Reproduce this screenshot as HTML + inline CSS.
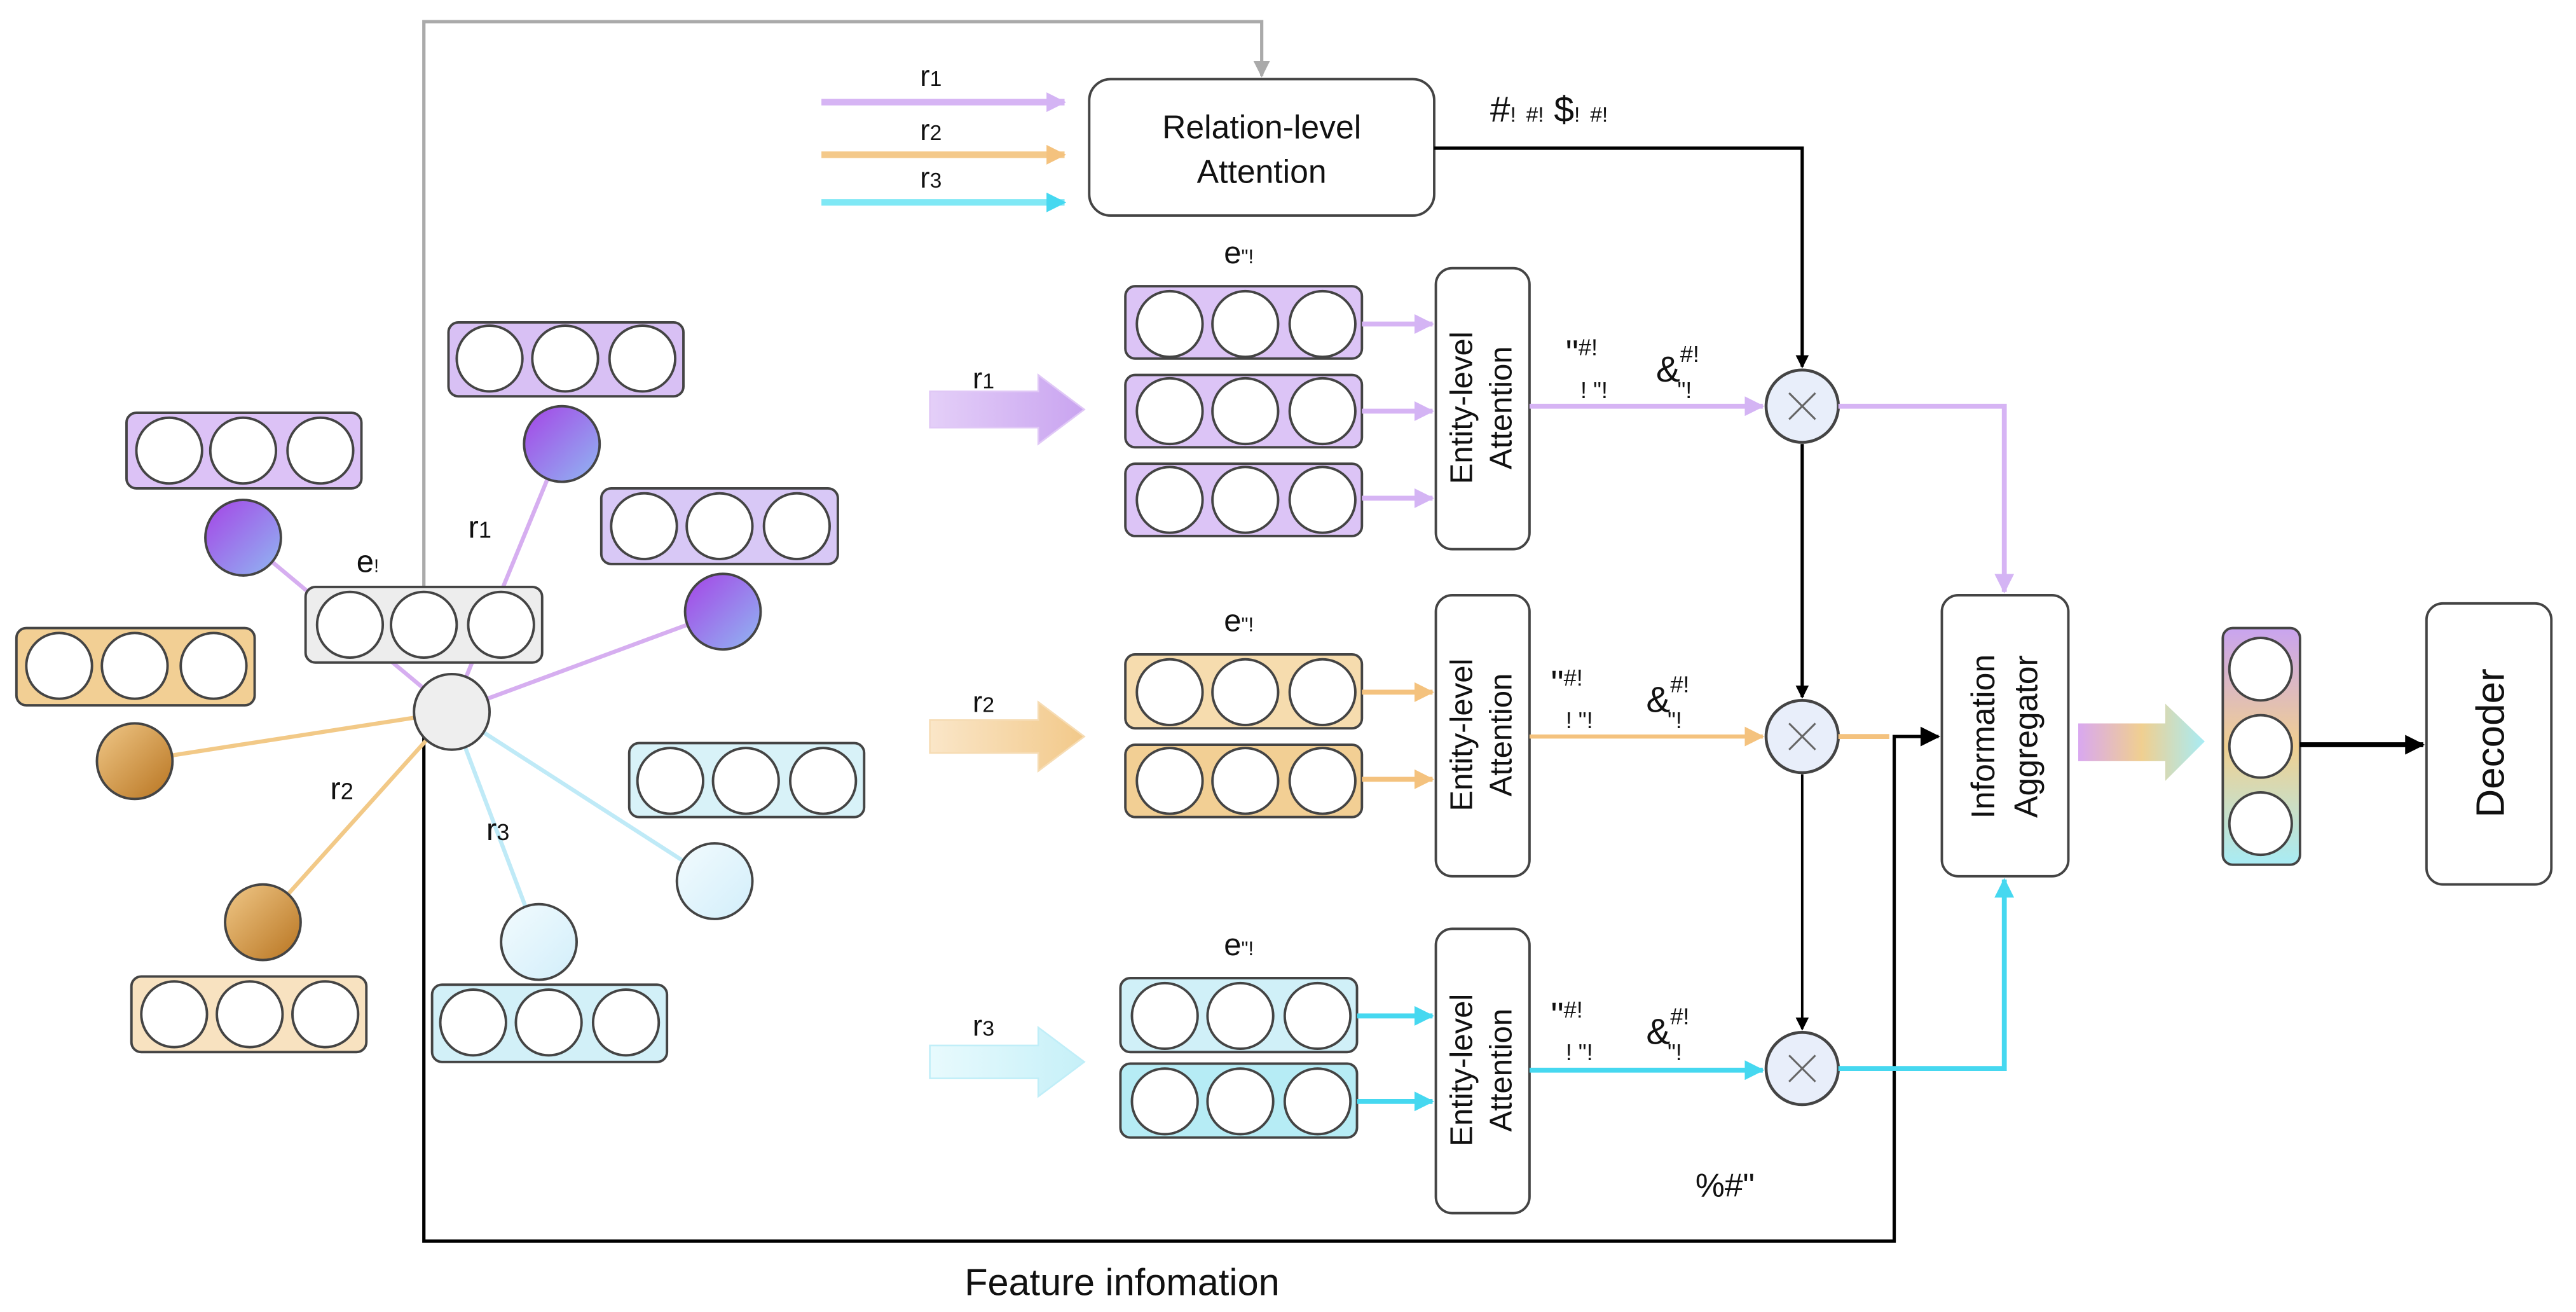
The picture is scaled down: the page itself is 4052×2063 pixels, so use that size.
<!DOCTYPE html>
<html><head><meta charset="utf-8"><style>
html,body{margin:0;padding:0;background:#fff;}
svg{display:block;}
text{font-family:"Liberation Sans",sans-serif;fill:#111;}
</style></head><body>
<svg width="4052" height="2063" viewBox="0 0 1568 798" xmlns="http://www.w3.org/2000/svg">
<defs>
<linearGradient id="gp" x1="0" y1="0" x2="1" y2="1"><stop offset="0" stop-color="#a543e6"/><stop offset="1" stop-color="#8fb8f2"/></linearGradient>
<linearGradient id="go" x1="0" y1="0" x2="1" y2="1"><stop offset="0" stop-color="#f0c888"/><stop offset="1" stop-color="#b87420"/></linearGradient>
<linearGradient id="gc" x1="0" y1="0" x2="1" y2="1"><stop offset="0" stop-color="#f2fbfe"/><stop offset="1" stop-color="#d2eefa"/></linearGradient>
<linearGradient id="gbig1" x1="0" y1="0" x2="1" y2="0"><stop offset="0" stop-color="#e4cff8"/><stop offset="1" stop-color="#c9a4f0"/></linearGradient>
<linearGradient id="gbig2" x1="0" y1="0" x2="1" y2="0"><stop offset="0" stop-color="#fae6c8"/><stop offset="1" stop-color="#f2c98a"/></linearGradient>
<linearGradient id="gbig3" x1="0" y1="0" x2="1" y2="0"><stop offset="0" stop-color="#e8fafd"/><stop offset="1" stop-color="#c6f0f8"/></linearGradient>
<linearGradient id="gmix" x1="0" y1="0" x2="1" y2="0"><stop offset="0" stop-color="#d9a8f0"/><stop offset="0.5" stop-color="#f0cf90"/><stop offset="1" stop-color="#a8ecf5"/></linearGradient>
<linearGradient id="gvec" x1="0" y1="0" x2="0" y2="1"><stop offset="0" stop-color="#c9a4f0"/><stop offset="0.5" stop-color="#f0cf90"/><stop offset="1" stop-color="#a8ecf5"/></linearGradient>
<marker id="ak" markerWidth="8" markerHeight="8" refX="7" refY="4" orient="auto" markerUnits="userSpaceOnUse"><path d="M0,0 L8,4 L0,8z" fill="#000"/></marker>
<marker id="ag" markerWidth="10" markerHeight="10" refX="9" refY="5" orient="auto" markerUnits="userSpaceOnUse"><path d="M0,0 L10,5 L0,10z" fill="#aaa"/></marker>
<marker id="ap" markerWidth="12" markerHeight="12" refX="11" refY="6" orient="auto" markerUnits="userSpaceOnUse"><path d="M0,0 L12,6 L0,12z" fill="#d4b4f4"/></marker>
<marker id="ao" markerWidth="12" markerHeight="12" refX="11" refY="6" orient="auto" markerUnits="userSpaceOnUse"><path d="M0,0 L12,6 L0,12z" fill="#f4c27e"/></marker>
<marker id="ac" markerWidth="12" markerHeight="12" refX="11" refY="6" orient="auto" markerUnits="userSpaceOnUse"><path d="M0,0 L12,6 L0,12z" fill="#46d8f0"/></marker>
<marker id="ak2" markerWidth="12" markerHeight="12" refX="11" refY="6" orient="auto" markerUnits="userSpaceOnUse"><path d="M0,0 L12,6 L0,12z" fill="#000"/></marker>
</defs>

<polyline points="258,357 258,13 768,13 768,46" fill="none" stroke="#aaa" stroke-width="2" marker-end="url(#ag)"/>
<polyline points="258,447 258,755 1153,755 1153,448 1180,448" fill="none" stroke="#000" stroke-width="2" marker-end="url(#ak2)"/>
<text x="683" y="788" font-size="23" text-anchor="middle">Feature infomation</text>
<text x="1032" y="728" font-size="20">%#"</text>

<g stroke-width="2.5">
<line x1="275" y1="433" x2="148" y2="327" stroke="#d6aef0"/>
<line x1="275" y1="433" x2="342" y2="270" stroke="#d6aef0"/>
<line x1="275" y1="433" x2="440" y2="372" stroke="#d6aef0"/>
<line x1="275" y1="433" x2="82" y2="463" stroke="#f2c987"/>
<line x1="275" y1="433" x2="160" y2="561" stroke="#f2c987"/>
<line x1="275" y1="433" x2="328" y2="573" stroke="#bfeaf7"/>
<line x1="275" y1="433" x2="435" y2="536" stroke="#bfeaf7"/>
</g>
<g stroke="#444" stroke-width="1.5">
<rect x="186" y="357" width="144" height="46" rx="6" fill="#ededed"/>
<rect x="77" y="251" width="143" height="46" rx="6" fill="#dcc2f6"/>
<rect x="273" y="196" width="143" height="45" rx="6" fill="#d8c0f4"/>
<rect x="366" y="297" width="144" height="46" rx="6" fill="#d8c8f6"/>
<rect x="10" y="382" width="145" height="47" rx="6" fill="#f2cf94"/>
<rect x="80" y="594" width="143" height="46" rx="6" fill="#f8e2c0"/>
<rect x="383" y="452" width="143" height="45" rx="6" fill="#d8f2f8"/>
<rect x="263" y="599" width="143" height="47" rx="6" fill="#d2f0f8"/>
</g>
<g fill="#fff" stroke="#444" stroke-width="1.5">
<circle cx="213" cy="380" r="20"/><circle cx="258" cy="380" r="20"/><circle cx="305" cy="380" r="20"/>
<circle cx="103" cy="274" r="20"/><circle cx="148" cy="274" r="20"/><circle cx="195" cy="274" r="20"/>
<circle cx="298" cy="218" r="20"/><circle cx="344" cy="218" r="20"/><circle cx="391" cy="218" r="20"/>
<circle cx="392" cy="320" r="20"/><circle cx="438" cy="320" r="20"/><circle cx="485" cy="320" r="20"/>
<circle cx="36" cy="405" r="20"/><circle cx="82" cy="405" r="20"/><circle cx="130" cy="405" r="20"/>
<circle cx="106" cy="617" r="20"/><circle cx="152" cy="617" r="20"/><circle cx="198" cy="617" r="20"/>
<circle cx="408" cy="475" r="20"/><circle cx="454" cy="475" r="20"/><circle cx="501" cy="475" r="20"/>
<circle cx="288" cy="622" r="20"/><circle cx="334" cy="622" r="20"/><circle cx="381" cy="622" r="20"/>
</g>
<g stroke="#444" stroke-width="1.5">
<circle cx="275" cy="433" r="23" fill="#eeeeee"/>
<circle cx="148" cy="327" r="23" fill="url(#gp)"/>
<circle cx="342" cy="270" r="23" fill="url(#gp)"/>
<circle cx="440" cy="372" r="23" fill="url(#gp)"/>
<circle cx="82" cy="463" r="23" fill="url(#go)"/>
<circle cx="160" cy="561" r="23" fill="url(#go)"/>
<circle cx="435" cy="536" r="23" fill="url(#gc)"/>
<circle cx="328" cy="573" r="23" fill="url(#gc)"/>
</g>
<text x="217" y="348" font-size="19">e<tspan font-size="11">!</tspan></text>
<text x="285" y="327" font-size="19" font-family="Liberation Mono">r<tspan font-size="14">1</tspan></text>
<text x="201" y="486" font-size="19" font-family="Liberation Mono">r<tspan font-size="14">2</tspan></text>
<text x="296" y="511" font-size="19" font-family="Liberation Mono">r<tspan font-size="14">3</tspan></text>

<line x1="500" y1="62" x2="648" y2="62" stroke="#d6b4f4" stroke-width="4" marker-end="url(#ap)"/>
<line x1="500" y1="94" x2="648" y2="94" stroke="#f4c98a" stroke-width="4" marker-end="url(#ao)"/>
<line x1="500" y1="123" x2="648" y2="123" stroke="#7fe8f5" stroke-width="4" marker-end="url(#ac)"/>
<text x="560" y="52" font-size="18" font-family="Liberation Mono">r<tspan font-size="13">1</tspan></text>
<text x="560" y="85" font-size="18" font-family="Liberation Mono">r<tspan font-size="13">2</tspan></text>
<text x="560" y="114" font-size="18" font-family="Liberation Mono">r<tspan font-size="13">3</tspan></text>
<rect x="663" y="48" width="210" height="83" rx="13" fill="#fff" stroke="#444" stroke-width="1.5"/>
<text x="768" y="84" font-size="20" text-anchor="middle">Relation-level</text>
<text x="768" y="111" font-size="20" text-anchor="middle">Attention</text>
<polyline points="873,90 1097,90 1097,223" fill="none" stroke="#000" stroke-width="2" marker-end="url(#ak)"/>
<text x="907" y="74" font-size="22">#<tspan font-size="13">!</tspan> <tspan font-size="13">#!</tspan> $<tspan font-size="13">!</tspan> <tspan font-size="13">#!</tspan></text>

<g stroke="#444" stroke-width="1.5">
<rect x="685" y="174" width="144" height="44" rx="6" fill="#dcc4f6"/>
<rect x="685" y="228" width="144" height="44" rx="6" fill="#dcc4f6"/>
<rect x="685" y="282" width="144" height="44" rx="6" fill="#dcc4f6"/>
<rect x="685" y="398" width="144" height="45" rx="6" fill="#f6dcae"/>
<rect x="685" y="453" width="144" height="44" rx="6" fill="#f2cf94"/>
<rect x="682" y="595" width="144" height="45" rx="6" fill="#d0f0f8"/>
<rect x="682" y="647" width="144" height="45" rx="6" fill="#b6ecf5"/>
</g>
<g fill="#fff" stroke="#444" stroke-width="1.5">
<circle cx="712" cy="197" r="20"/><circle cx="758" cy="197" r="20"/><circle cx="805" cy="197" r="20"/>
<circle cx="712" cy="250" r="20"/><circle cx="758" cy="250" r="20"/><circle cx="805" cy="250" r="20"/>
<circle cx="712" cy="304" r="20"/><circle cx="758" cy="304" r="20"/><circle cx="805" cy="304" r="20"/>
<circle cx="712" cy="421" r="20"/><circle cx="758" cy="421" r="20"/><circle cx="805" cy="421" r="20"/>
<circle cx="712" cy="475" r="20"/><circle cx="758" cy="475" r="20"/><circle cx="805" cy="475" r="20"/>
<circle cx="709" cy="618" r="20"/><circle cx="755" cy="618" r="20"/><circle cx="802" cy="618" r="20"/>
<circle cx="709" cy="670" r="20"/><circle cx="755" cy="670" r="20"/><circle cx="802" cy="670" r="20"/>
</g>
<text x="745" y="160" font-size="19">e<tspan font-size="12">"!</tspan></text>
<text x="745" y="384" font-size="19">e<tspan font-size="12">"!</tspan></text>
<text x="745" y="581" font-size="19">e<tspan font-size="12">"!</tspan></text>
<g stroke-width="3">
<line x1="829" y1="197" x2="872" y2="197" stroke="#d6b4f4" marker-end="url(#ap)"/>
<line x1="829" y1="250" x2="872" y2="250" stroke="#d6b4f4" marker-end="url(#ap)"/>
<line x1="829" y1="303" x2="872" y2="303" stroke="#d6b4f4" marker-end="url(#ap)"/>
<line x1="829" y1="421" x2="872" y2="421" stroke="#f4c27e" marker-end="url(#ao)"/>
<line x1="829" y1="474" x2="872" y2="474" stroke="#f4c27e" marker-end="url(#ao)"/>
<line x1="826" y1="618" x2="872" y2="618" stroke="#46d8f0" marker-end="url(#ac)"/>
<line x1="826" y1="670" x2="872" y2="670" stroke="#46d8f0" marker-end="url(#ac)"/>
</g>
<path d="M566,238 L632,238 L632,228 L660,249 L632,270 L632,260 L566,260z" fill="url(#gbig1)" stroke="#e0c8f6"/>
<path d="M566,438 L632,438 L632,427 L660,448 L632,469 L632,458 L566,458z" fill="url(#gbig2)" stroke="#f6dcb4"/>
<path d="M566,636 L632,636 L632,625 L660,646 L632,667 L632,656 L566,656z" fill="url(#gbig3)" stroke="#c0eef8"/>
<text x="592" y="236" font-size="18" font-family="Liberation Mono">r<tspan font-size="13">1</tspan></text>
<text x="592" y="433" font-size="18" font-family="Liberation Mono">r<tspan font-size="13">2</tspan></text>
<text x="592" y="630" font-size="18" font-family="Liberation Mono">r<tspan font-size="13">3</tspan></text>
<g fill="#fff" stroke="#444" stroke-width="1.5">
<rect x="874" y="163" width="57" height="171" rx="10"/>
<rect x="874" y="362" width="57" height="171" rx="10"/>
<rect x="874" y="565" width="57" height="173" rx="10"/>
</g>
<g font-size="19" text-anchor="middle">
<text transform="translate(896,248) rotate(-90)">Entity-level</text>
<text transform="translate(920,248) rotate(-90)">Attention</text>
<text transform="translate(896,447) rotate(-90)">Entity-level</text>
<text transform="translate(920,447) rotate(-90)">Attention</text>
<text transform="translate(896,651) rotate(-90)">Entity-level</text>
<text transform="translate(920,651) rotate(-90)">Attention</text>
</g>
<line x1="931" y1="247" x2="1073" y2="247" stroke="#d6b4f4" stroke-width="3" marker-end="url(#ap)"/>
<line x1="931" y1="448" x2="1073" y2="448" stroke="#f4c27e" stroke-width="2.5" marker-end="url(#ao)"/>
<line x1="931" y1="651" x2="1073" y2="651" stroke="#46d8f0" stroke-width="3" marker-end="url(#ac)"/>
<g font-size="22">
<text x="953" y="222">"<tspan font-size="14" dy="-6">#!</tspan></text><text x="962" y="242" font-size="14">! "!</text>
<text x="1008" y="232">&amp;<tspan font-size="14" dy="-12">#!</tspan></text><text x="1021" y="242" font-size="14">"!</text>
<text x="944" y="423">"<tspan font-size="14" dy="-6">#!</tspan></text><text x="953" y="443" font-size="14">! "!</text>
<text x="1002" y="433">&amp;<tspan font-size="14" dy="-12">#!</tspan></text><text x="1015" y="443" font-size="14">"!</text>
<text x="944" y="625">"<tspan font-size="14" dy="-6">#!</tspan></text><text x="953" y="645" font-size="14">! "!</text>
<text x="1002" y="635">&amp;<tspan font-size="14" dy="-12">#!</tspan></text><text x="1015" y="645" font-size="14">"!</text>
</g>
<line x1="1097" y1="270" x2="1097" y2="424" stroke="#000" stroke-width="2" marker-end="url(#ak)"/>
<line x1="1097" y1="471" x2="1097" y2="626" stroke="#000" stroke-width="1.5" marker-end="url(#ak)"/>
<g fill="#e8eefa" stroke="#444" stroke-width="1.8">
<circle cx="1097" cy="247" r="22"/><circle cx="1097" cy="448" r="22"/><circle cx="1097" cy="650" r="22"/>
</g>
<g stroke="#666" stroke-width="1.2">
<path d="M1089,239 L1105,255 M1105,239 L1089,255"/>
<path d="M1089,440 L1105,456 M1105,440 L1089,456"/>
<path d="M1089,642 L1105,658 M1105,642 L1089,658"/>
</g>
<polyline points="1119,247 1220,247 1220,360" fill="none" stroke="#d6b4f4" stroke-width="3" marker-end="url(#ap)"/>
<line x1="1119" y1="448" x2="1150" y2="448" stroke="#f4c27e" stroke-width="3"/>
<polyline points="1119,650 1220,650 1220,535" fill="none" stroke="#46d8f0" stroke-width="3" marker-end="url(#ac)"/>
<rect x="1182" y="362" width="77" height="171" rx="10" fill="#fff" stroke="#444" stroke-width="1.5"/>
<text transform="translate(1214,448) rotate(-90)" font-size="20" text-anchor="middle">Information</text>
<text transform="translate(1240,448) rotate(-90)" font-size="20" text-anchor="middle">Aggregator</text>
<path d="M1265,440 L1318,440 L1318,428 L1342,451 L1318,475 L1318,463 L1265,463z" fill="url(#gmix)"/>
<rect x="1353" y="382" width="47" height="144" rx="6" fill="url(#gvec)" stroke="#444" stroke-width="1.5"/>
<g fill="#fff" stroke="#444" stroke-width="1.5">
<circle cx="1376" cy="407" r="19"/><circle cx="1376" cy="454" r="19"/><circle cx="1376" cy="501" r="19"/>
</g>
<line x1="1400" y1="453" x2="1475" y2="453" stroke="#000" stroke-width="3" marker-end="url(#ak2)"/>
<rect x="1477" y="367" width="76" height="171" rx="10" fill="#fff" stroke="#444" stroke-width="1.5"/>
<text transform="translate(1524,452) rotate(-90)" font-size="24" text-anchor="middle">Decoder</text>
</svg>
</body></html>
